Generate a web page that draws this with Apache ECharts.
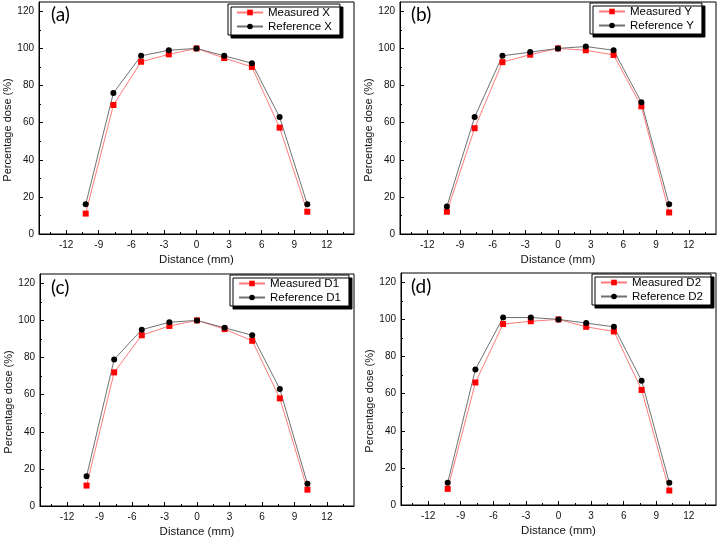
<!DOCTYPE html>
<html><head><meta charset="utf-8">
<script src="https://cdn.jsdelivr.net/npm/echarts@6/dist/echarts.min.js"></script>
<style>html,body{margin:0;padding:0;background:#fff}#c{width:720px;height:541px}</style>
</head><body><div id="c"></div>
<script>
// ---- data ----
const distances = [-10.2, -7.65, -5.1, -2.55, 0, 2.55, 5.1, 7.65, 10.2];
const xTicks = [-12, -9, -6, -3, 0, 3, 6, 9, 12];
const xMinorTicks = [-13.5, -10.5, -7.5, -4.5, -1.5, 1.5, 4.5, 7.5, 10.5, 13.5];
const yTicks = [0, 20, 40, 60, 80, 100, 120];
const yMinorTicks = [10, 30, 50, 70, 90, 110];
const panelLabels = ['(a)', '(b)', '(c)', '(d)'];
const measuredNames = ['Measured X', 'Measured Y', 'Measured D1', 'Measured D2'];
const referenceNames = ['Reference X', 'Reference Y', 'Reference D1', 'Reference D2'];
const measuredX = [11, 69.5, 92.8, 96.8, 100, 94.8, 90, 57.3, 12];
const referenceX = [16, 76, 96, 99, 100, 96, 92, 63, 16];
const measuredY = [12, 57, 92.6, 96.6, 100, 99, 96.5, 68.8, 11.6];
const referenceY = [14.8, 63, 96, 98, 100, 101, 99, 71, 16];
const measuredD1 = [11, 72, 92, 97, 100, 95.3, 89, 58, 8.8];
const referenceD1 = [16, 79, 95, 99, 100, 96, 92, 63, 12];
const measuredD2 = [8.7, 66, 97.5, 99, 100, 96, 93.5, 62, 7.8];
const referenceD2 = [12, 73, 101, 101, 100, 98, 96, 67, 12];

const measuredSets = [measuredX, measuredY, measuredD1, measuredD2];
const referenceSets = [referenceX, referenceY, referenceD1, referenceD2];

// ---- layout ----
const gridBoxes = [
  {left: 39, top: 2, width: 315, height: 232},
  {left: 400, top: 2, width: 316, height: 232},
  {left: 40, top: 274, width: 314, height: 232},
  {left: 401, top: 273, width: 315, height: 232}
];
const legendPos = [
  {left: 228, top: 4}, {left: 590, top: 3}, {left: 230, top: 275}, {left: 592, top: 274}
];
const labelPos = [
  {left: 51, top: 5}, {left: 411, top: 5}, {left: 51, top: 278}, {left: 411, top: 277}
];

const FONT = '"Liberation Sans", Arial, sans-serif';
const pair = (vals) => distances.map((d, i) => [d, vals[i]]);

const grid = [], xAxis = [], yAxis = [], series = [], legend = [], title = [];
gridBoxes.forEach((g, i) => {
  grid.push(Object.assign({show: true, borderColor: '#000', borderWidth: 1, backgroundColor: '#fff'}, g));
  xAxis.push({
    type: 'value', gridIndex: i, position: 'bottom', min: -14.5, max: 14.5,
    name: 'Distance (mm)', nameLocation: 'middle', nameGap: 20,
    nameTextStyle: {fontFamily: FONT, fontSize: 11.5, color: '#111'},
    axisLine: {show: true, onZero: false, lineStyle: {color: '#000', width: 1}},
    axisTick: {show: true, inside: true, length: 4, customValues: xTicks, lineStyle: {color: '#000'}},
    axisLabel: {show: true, margin: 6, customValues: xTicks, fontFamily: FONT, fontSize: 10, color: '#111'},
    splitLine: {show: false}
  });
  xAxis.push({
    type: 'value', gridIndex: i, position: 'bottom', min: -14.5, max: 14.5,
    axisLine: {show: false, onZero: false},
    axisTick: {show: true, inside: true, length: 2, customValues: xMinorTicks, lineStyle: {color: '#000'}},
    axisLabel: {show: false}, splitLine: {show: false}
  });
  yAxis.push({
    type: 'value', gridIndex: i, position: 'left', min: 0, max: 125,
    name: 'Percentage dose (%)', nameLocation: 'middle', nameGap: 26, nameRotate: 90,
    nameTextStyle: {fontFamily: FONT, fontSize: 11, color: '#111', padding: [0, 24, 0, 0]},
    axisLine: {show: true, onZero: false, lineStyle: {color: '#000', width: 1}},
    axisTick: {show: true, inside: true, length: 4, customValues: yTicks, lineStyle: {color: '#000'}},
    axisLabel: {show: true, margin: 5, customValues: yTicks, fontFamily: FONT, fontSize: 10, color: '#111'},
    splitLine: {show: false}
  });
  yAxis.push({
    type: 'value', gridIndex: i, position: 'left', min: 0, max: 125,
    axisLine: {show: false, onZero: false},
    axisTick: {show: true, inside: true, length: 2, customValues: yMinorTicks, lineStyle: {color: '#000'}},
    axisLabel: {show: false}, splitLine: {show: false}
  });
  series.push({
    type: 'line', name: measuredNames[i], xAxisIndex: 2 * i, yAxisIndex: 2 * i,
    data: pair(measuredSets[i]), symbol: 'rect', symbolSize: 6,
    lineStyle: {color: '#ff7a7a', width: 1}, itemStyle: {color: '#ff0000'},
    emphasis: {disabled: true}, animation: false
  });
  series.push({
    type: 'line', name: referenceNames[i], xAxisIndex: 2 * i, yAxisIndex: 2 * i,
    data: pair(referenceSets[i]), symbol: 'circle', symbolSize: 6,
    lineStyle: {color: '#707070', width: 1}, itemStyle: {color: '#000'},
    emphasis: {disabled: true}, animation: false
  });
  legend.push(Object.assign({
    orient: 'vertical', data: [measuredNames[i], referenceNames[i]],
    backgroundColor: '#fff', borderColor: '#000', borderWidth: 1,
    shadowColor: '#000', shadowBlur: 0, shadowOffsetX: 3, shadowOffsetY: 3,
    padding: [2, 8, 2, 8], itemGap: 1, itemWidth: 26, itemHeight: 7,
    textStyle: {fontFamily: FONT, fontSize: 11.5, color: '#000', lineHeight: 13},
    selectedMode: false
  }, legendPos[i]));
  title.push(Object.assign({
    text: panelLabels[i], padding: 0,
    textStyle: {fontFamily: 'Lato, "Open Sans", sans-serif', fontSize: 19, fontWeight: 'normal', color: '#000'}
  }, labelPos[i]));
});

const chart = echarts.init(document.getElementById('c'), null, {renderer: 'canvas'});
chart.setOption({animation: false, grid, xAxis, yAxis, series, legend, title});
</script>
</body></html>
